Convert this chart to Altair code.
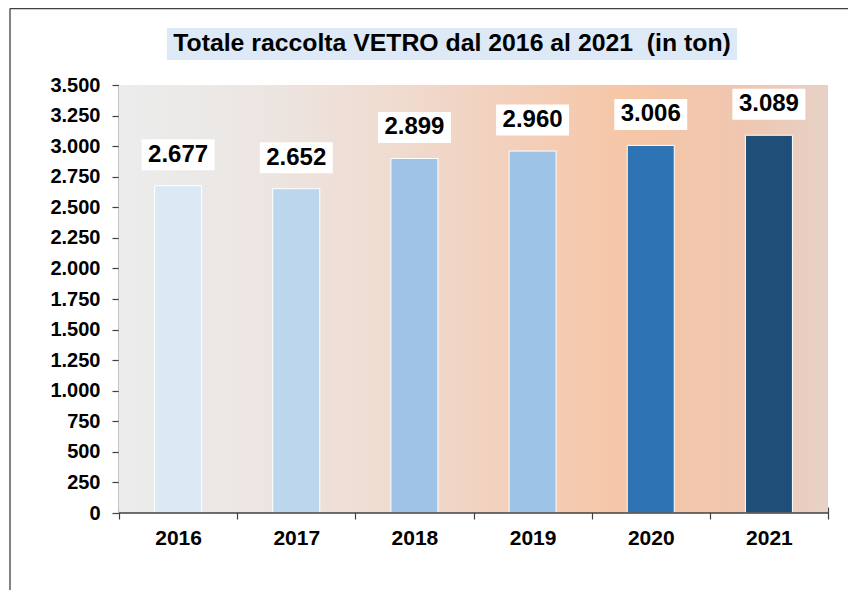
import altair as alt
import pandas as pd

# ---- data ----
years = ["2016", "2017", "2018", "2019", "2020", "2021"]
tons = [2677, 2652, 2899, 2960, 3006, 3089]
y_ticks = list(range(0, 3501, 250))
title_text = "Totale raccolta VETRO dal 2016 al 2021 \u00a0(in ton)"

# ---- style ----
bar_colors = ["#dce9f5", "#bcd6ee", "#9ec3e6", "#9dc3e6", "#2e74b5", "#1f4e79"]
FONT = "Liberation Sans"
W, H = 709, 428

df = pd.DataFrame({"year": years, "tons": tons})
one = pd.DataFrame({"k": [0]})
tdf = pd.DataFrame({"t": [title_text]})

thousands = "replace(format({v}, ','), ',', '.')"

x_enc = alt.X(
    "year:N", sort=years,
    scale=alt.Scale(paddingInner=0, paddingOuter=0),
    axis=alt.Axis(
        title=None, labelAngle=0, offset=-6, tickSize=12, tickBand="extent",
        domain=False, tickColor="#404040", tickWidth=1.2,
        labelFont=FONT, labelFontSize=21, labelFontWeight="bold",
        labelColor="#000000", labelPadding=8,
    ),
)
y_enc = alt.Y(
    "tons:Q",
    scale=alt.Scale(domain=[0, 3500], nice=False),
    axis=alt.Axis(
        title=None, values=y_ticks, grid=False, tickSize=7,
        tickColor="#404040", tickWidth=1.2, domainColor="#8c8c8c", domainWidth=2,
        labelExpr=thousands.format(v="datum.value"),
        labelFont=FONT, labelFontSize=20, labelFontWeight="bold",
        labelColor="#000000", labelPadding=12,
    ),
)

gradient = alt.LinearGradient(
    gradient="linear", x1=0, x2=1, y1=0, y2=0,
    stops=[
        alt.GradientStop(offset=0.0, color="#ececec"),
        alt.GradientStop(offset=0.12, color="#ebe9e7"),
        alt.GradientStop(offset=0.25, color="#ede3de"),
        alt.GradientStop(offset=0.42, color="#f0d9cc"),
        alt.GradientStop(offset=0.58, color="#f3ceb8"),
        alt.GradientStop(offset=0.72, color="#f6c6a6"),
        alt.GradientStop(offset=0.88, color="#efc7b0"),
        alt.GradientStop(offset=1.0, color="#e7d1c6"),
    ],
)

background = alt.Chart(one).mark_rect(fill=gradient).encode(
    x=alt.value(0), x2=alt.value(W), y=alt.value(0), y2=alt.value(H)
)

bars = alt.Chart(df).mark_bar(size=47, stroke="white", strokeWidth=1).encode(
    x=x_enc, y=y_enc,
    color=alt.Color("year:N", sort=years,
                    scale=alt.Scale(domain=years, range=bar_colors), legend=None),
)

box_shape = "M-1,-0.425L1,-0.425L1,0.425L-1,0.425Z"
label_boxes = alt.Chart(df).mark_point(
    shape=box_shape, size=73 * 73, filled=True, fill="white", opacity=1,
    strokeWidth=0, yOffset=-31,
).encode(x=x_enc, y=y_enc)

label_text = alt.Chart(df).transform_calculate(
    lab=thousands.format(v="datum.tons")
).mark_text(
    font=FONT, fontSize=24, fontWeight="bold", color="#000000",
    baseline="middle", align="center", yOffset=-31,
).encode(x=x_enc, y=y_enc, text="lab:N")

x_domain = alt.Chart(one).mark_rule(color="#404040", strokeWidth=1.5).encode(
    x=alt.value(0), x2=alt.value(W), y=alt.value(H)
)

title_box = alt.Chart(tdf).mark_point(
    shape="M-1,-0.0561L1,-0.0561L1,0.0561L-1,0.0561Z", size=570 * 570,
    filled=True, fill="#dde9f6", opacity=1, strokeWidth=0,
).encode(x=alt.value(333), y=alt.value(-41))

title = alt.Chart(tdf).mark_text(
    font=FONT, fontSize=24.8, fontWeight="bold", color="#000000",
    align="center", baseline="middle",
).encode(x=alt.value(333), y=alt.value(-41), text="t:N")

border_top = alt.Chart(one).mark_rule(color="#404040", strokeWidth=1.3).encode(
    x=alt.value(-109), x2=alt.value(800), y=alt.value(-76.5)
)
border_left = alt.Chart(one).mark_rule(color="#404040", strokeWidth=1.3).encode(
    x=alt.value(-109), y=alt.value(-76.5), y2=alt.value(700)
)

chart = alt.layer(
    background, bars, label_boxes, label_text, x_domain,
    title_box, title, border_top, border_left,
).properties(
    width=W, height=H,
    autosize=alt.AutoSizeParams(type="none"),
    padding={"left": 111, "top": 77, "right": 20, "bottom": 77},
    background="white",
).configure_view(strokeWidth=0)

chart.save("out.html", embed_options={"renderer": "svg", "actions": False})
